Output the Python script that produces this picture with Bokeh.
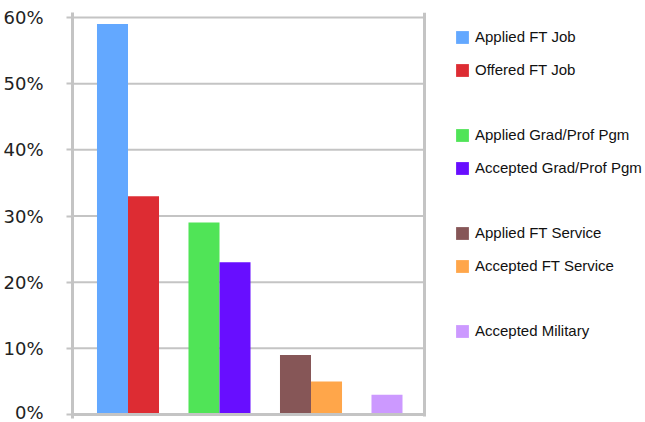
from bokeh.plotting import figure
from bokeh.models import Range1d, Legend, LegendItem, FixedTicker
from bokeh.embed import file_html
from bokeh.resources import INLINE

# ---- data ----
series = ["Applied FT Job", "Offered FT Job",
          "Applied Grad/Prof Pgm", "Accepted Grad/Prof Pgm",
          "Applied FT Service", "Accepted FT Service",
          "Accepted Military"]
values = [59, 33, 29, 23, 9, 5, 3]
group_index = [0, 0, 1, 1, 2, 2, 3]
slot_index = [0, 1, 0, 1, 0, 1, 0]
colors = ["#63A8FF", "#DD2C33", "#50E457", "#680EFF", "#865657", "#FFA64A", "#CC99FF"]
blank_after = [1, 3, 5]
y_ticks = [0, 10, 20, 30, 40, 50, 60]
tick_labels = ["0%", "10%", "20%", "30%", "40%", "50%", "60%"]

BAR_W = 0.339
GRID = "#c4c4c4"
X0, X_CHART_END, X1 = -0.6066, 3.2404, 5.6557
Y0, Y1 = -0.6045, 60.756

p = figure(width=645, height=422,
           x_range=Range1d(X0, X1), y_range=Range1d(Y0, Y1),
           output_backend="svg", toolbar_location=None,
           min_border_left=72, min_border_top=12, min_border_bottom=4, min_border_right=0)
p.outline_line_color = None
p.xaxis.visible = False
p.xgrid.visible = False
p.ygrid.visible = False

p.yaxis.ticker = FixedTicker(ticks=y_ticks)
p.yaxis.major_label_overrides = {t: l for t, l in zip(y_ticks, tick_labels)}
p.yaxis.major_label_text_font = "DejaVu Sans"
p.yaxis.major_label_text_font_size = "18px"
p.yaxis.major_label_text_color = "#222222"
p.yaxis.major_label_standoff = 23
p.yaxis.axis_line_color = GRID
p.yaxis.axis_line_width = 3
p.yaxis.major_tick_line_color = GRID
p.yaxis.major_tick_line_width = 2
p.yaxis.major_tick_out = 6
p.yaxis.major_tick_in = 0
p.yaxis.minor_tick_line_color = None

# horizontal grid lines limited to the chart area
p.segment(x0=[X0] * len(y_ticks), x1=[X_CHART_END] * len(y_ticks),
          y0=y_ticks, y1=y_ticks, line_color=GRID, line_width=2)
# right border of the chart area
p.segment(x0=[X_CHART_END], x1=[X_CHART_END], y0=[Y0 + 0.3], y1=[Y1],
          line_color=GRID, line_width=3)

items = []
for i, name in enumerate(series):
    x = group_index[i] + (slot_index[i] - 0.5) * BAR_W
    r = p.vbar(x=[x], top=[values[i]], bottom=0, width=BAR_W,
               fill_color=colors[i], line_color=None)
    items.append(LegendItem(label=name, renderers=[r]))
    if i in blank_after:
        b = p.vbar(x=[], top=[], width=BAR_W, fill_alpha=0, line_alpha=0)
        items.append(LegendItem(label=" ", renderers=[b]))

# baseline at 0%
p.segment(x0=[X0], x1=[X_CHART_END], y0=[0], y1=[0], line_color=GRID, line_width=3)

legend = Legend(items=items, location=(382, 79),
                border_line_color=None, background_fill_alpha=0,
                label_text_font="Liberation Sans", label_text_font_size="15px",
                label_text_color="#111111",
                glyph_width=16, glyph_height=16, label_height=16,
                spacing=16, label_standoff=5, padding=0, margin=0)
p.add_layout(legend, "center")

open("out.html", "w").write(file_html(p, INLINE))
